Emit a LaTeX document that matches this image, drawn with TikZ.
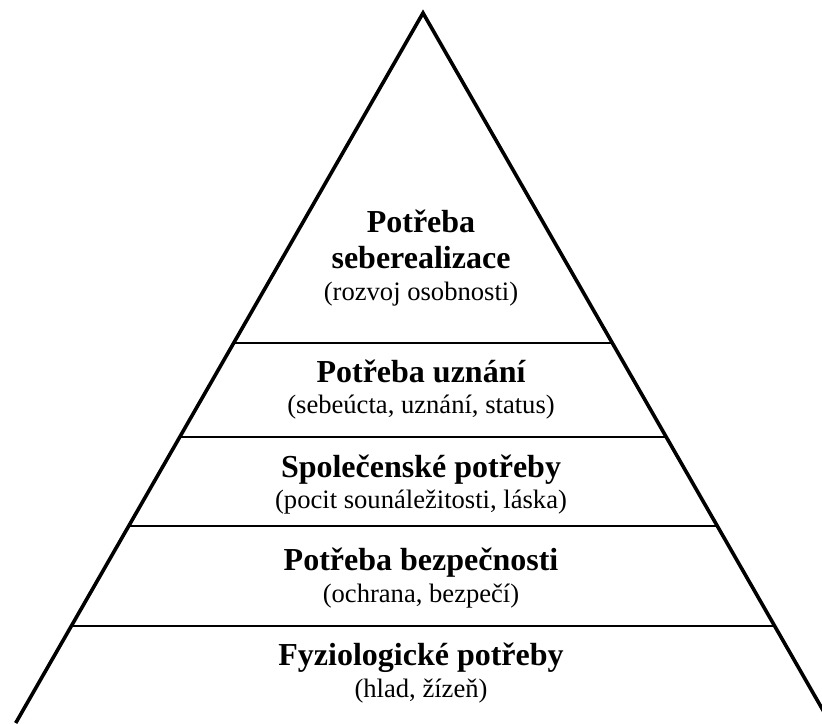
\documentclass[tikz,border=0pt]{standalone}
\usepackage{fontspec}
\setmainfont{Liberation Serif}
\usetikzlibrary{calc}

\begin{document}
\begin{tikzpicture}[x=0.5pt, y=-0.5pt,
  head/.style={font=\fontsize{16}{18}\selectfont\bfseries, anchor=base, inner sep=0pt},
  sub/.style={font=\fontsize{13.3}{15}\selectfont, anchor=base, inner sep=0pt},
  level/.style={line width=1.2pt}]
  \clip (0,0) rectangle (822,723);
  \coordinate (apex) at (423,13);
  \coordinate (bl) at (15.7,723);
  \coordinate (br) at (830.3,723);
  \draw[line width=1.8pt] (bl) -- (apex) -- (br);
  % levels
  \draw[level] ($(apex)!0.4647!(bl)$) -- ($(apex)!0.4647!(br)$);
  \draw[level] ($(apex)!0.5972!(bl)$) -- ($(apex)!0.5972!(br)$);
  \draw[level] ($(apex)!0.7225!(bl)$) -- ($(apex)!0.7225!(br)$);
  \draw[level] ($(apex)!0.8634!(bl)$) -- ($(apex)!0.8634!(br)$);
  % texts
  \node[head] (selfa) at (421,232) {Potřeba};
  \node[head] (selfb) at (421,268) {seberealizace};
  \node[sub] (selfc) at (421,300) {(rozvoj osobnosti)};
  \node[head] (estema) at (421,382) {Potřeba uznání};
  \node[sub] (estemb) at (421,413) {(sebeúcta, uznání, status)};
  \node[head] (sociala) at (421,477) {Společenské potřeby};
  \node[sub] (socialb) at (421,508) {(pocit sounáležitosti, láska)};
  \node[head] (safea) at (421,570) {Potřeba bezpečnosti};
  \node[sub] (safeb) at (421,602) {(ochrana, bezpečí)};
  \node[head] (physa) at (421,665) {Fyziologické potřeby};
  \node[sub] (physb) at (421,697) {(hlad, žízeň)};
\end{tikzpicture}
\end{document}
